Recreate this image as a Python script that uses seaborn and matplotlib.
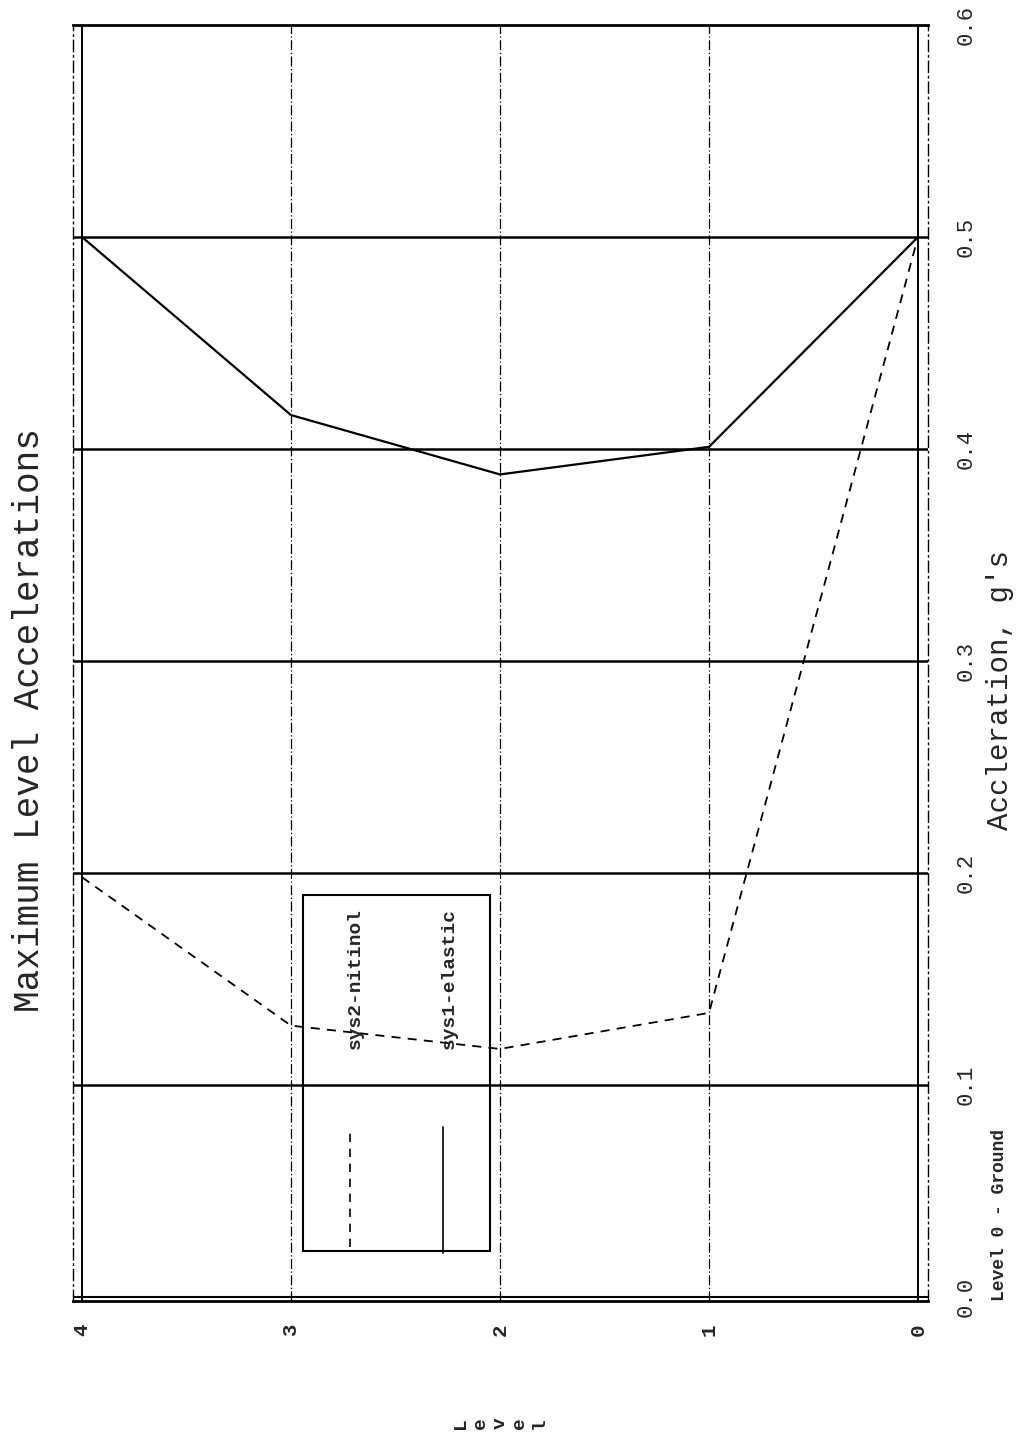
import matplotlib
matplotlib.use("Agg")
import matplotlib.pyplot as plt
import seaborn as sns
import pandas as pd
from matplotlib.patches import Rectangle

levels = [4, 3, 2, 1, 0]
sys1_elastic = [0.500, 0.416, 0.388, 0.401, 0.500]
sys2_nitinol = [0.198, 0.128, 0.117, 0.134, 0.500]
accel_ticks = [0.0, 0.1, 0.2, 0.3, 0.4, 0.5, 0.6]
accel_labels = ["0.0", "0.1", "0.2", "0.3", "0.4", "0.5", "0.6"]
level_ticks = [4, 3, 2, 1, 0]
level_labels = ["4", "3", "2", "1", "0"]

sns.set_theme(style="white")
plt.rcParams['font.family'] = ['Liberation Mono', 'DejaVu Sans Mono']

W, H = 1017, 1437
fig = plt.figure(figsize=(W / 100, H / 100), dpi=100)
ax_l, ax_r, ax_t, ax_b = 73, 928, 25, 1301
ax = fig.add_axes([ax_l / W, 1 - ax_b / H, (ax_r - ax_l) / W, (ax_b - ax_t) / H])
ax.set_facecolor("white")

df1 = pd.DataFrame({"level": levels, "accel": sys1_elastic})
df2 = pd.DataFrame({"level": levels, "accel": sys2_nitinol})
sns.lineplot(data=df1, x="level", y="accel", ax=ax, color="black", lw=1.6,
             linestyle="-", sort=False, estimator=None)
sns.lineplot(data=df2, x="level", y="accel", ax=ax, color="black", lw=1.3,
             linestyle=(0, (5, 4)), sort=False, estimator=None)

ax.set_xlim(4.043, -0.048)
ax.set_ylim(-0.0019, 0.6)

# horizontal grid (acceleration)
for v in accel_ticks[1:6]:
    ax.axhline(v, color="black", lw=1.8, zorder=1)
ax.axhline(0.0, color="black", lw=1.5, zorder=1)
# vertical grid (levels)
for lv in [1, 2, 3]:
    ax.axvline(lv, color="black", lw=0.9, linestyle=(0, (8, 2, 1, 2)), zorder=1)
for lv in [0, 4]:
    ax.axvline(lv, color="black", lw=1.4, zorder=1)

for side in ["left", "right"]:
    ax.spines[side].set_linestyle((0, (8, 3, 1, 3)))
    ax.spines[side].set_linewidth(1.0)
    ax.spines[side].set_color("black")
for side in ["top", "bottom"]:
    ax.spines[side].set_linewidth(2.0)
    ax.spines[side].set_color("black")

ax.yaxis.tick_right()
ax.set_yticks(accel_ticks)
ax.set_yticklabels(accel_labels, rotation=90, va="center", fontsize=16)
ax.set_xticks(level_ticks)
ax.set_xticklabels(level_labels, rotation=90, ha="center", fontsize=15, fontweight="bold")
ax.tick_params(axis="y", length=0, pad=20)
ax.tick_params(axis="x", length=0, pad=16)
ax.set_xlabel("")
ax.set_ylabel("")

# legend (drawn rotated)
ax.add_patch(Rectangle((0.269, 0.039), 0.219, 0.279, transform=ax.transAxes,
                       fill=False, edgecolor="black", lw=1.5, zorder=3))
ax.plot([0.324, 0.324], [0.042, 0.132], transform=ax.transAxes, color="black",
        lw=1.2, linestyle=(0, (5, 4)))
ax.plot([0.433, 0.433], [0.038, 0.136], transform=ax.transAxes, color="black", lw=1.2)
ax.text(0.330, 0.253, "sys2-nitinol", transform=ax.transAxes, rotation=90,
        ha="center", va="center", fontsize=14, fontweight="bold")
ax.text(0.440, 0.253, "sys1-elastic", transform=ax.transAxes, rotation=90,
        ha="center", va="center", fontsize=14, fontweight="bold")

fig.text(30 / W, 1 - 720 / H, "Maximum Level Accelerations", rotation=90,
         ha="center", va="center", fontsize=26)
fig.text(1000 / W, 1 - 690 / H, "Accleration, g's", rotation=90,
         ha="center", va="center", fontsize=21)
fig.text(1000 / W, 1 - 1215 / H, "Level 0 - Ground", rotation=90,
         ha="center", va="center", fontsize=13, fontweight="bold")
fig.text(500 / W, 1 - 1423 / H, "L\ne\nv\ne\nl", rotation=90,
         ha="center", va="center", fontsize=14, fontweight="bold", linespacing=1.2)

fig.savefig("out.png", dpi=100, facecolor="white")
